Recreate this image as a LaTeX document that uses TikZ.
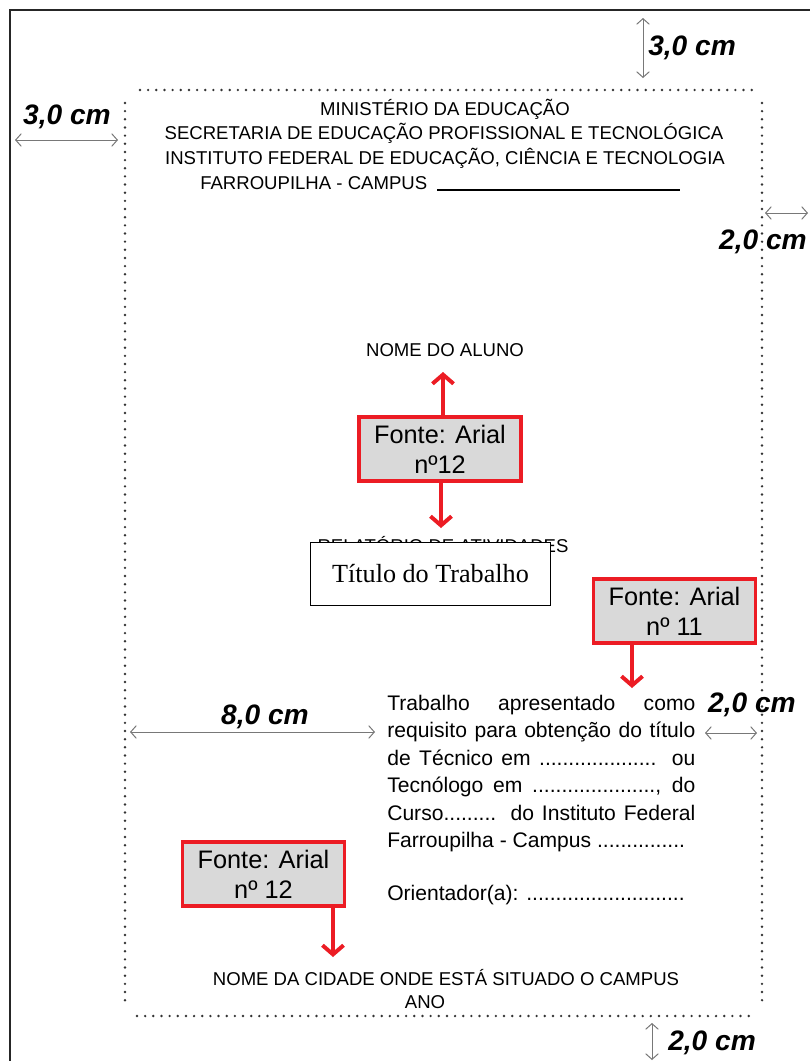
\documentclass[tikz,border=0pt]{standalone}
\usepackage{fontspec}
\setmainfont{Liberation Sans}
\newfontfamily\titlefont{Liberation Serif}
\usetikzlibrary{arrows.meta}
\definecolor{markred}{RGB}{236,28,36}
\definecolor{boxgray}{RGB}{217,217,217}
\definecolor{dimgray}{RGB}{120,120,120}
\tikzset{
	caps/.style={font=\fontsize{13.2}{17.4}\selectfont, inner sep=0pt},
	fontbox/.style={draw=markred, line width=2.8pt, fill=boxgray, align=center, minimum width=4.05cm, minimum height=1.62cm, inner sep=0pt, font=\fontsize{18}{21.5}\selectfont},
	redarrow/.style={draw=markred, line width=2.8pt, -{Straight Barb[length=6.5pt,width=15pt]}},
	dimarrow/.style={draw=dimgray, line width=0.7pt, {Straight Barb[length=4pt,width=9pt]}-{Straight Barb[length=4pt,width=9pt]}},
	dimtext/.style={font=\fontsize{20}{24}\selectfont\bfseries\itshape, inner sep=0pt},
	marginline/.style={draw=black!80, line width=1.9pt, line cap=round, dash pattern=on 0pt off 5.8pt},
}

\begin{document}
\begin{tikzpicture}[x=0.025cm, y=-0.025cm]
	%%%%% START %%%%%
	
	\clip (0,0) rectangle (810,1061);
	\fill[white] (0,0) rectangle (810,1061);
	
	% page edge
	\draw[line width=1.5pt, black!85] (10,1061) -- (10,10) -- (810,10);
	
	% margins
	\draw[marginline] (140,90) -- (752,90);
	\draw[marginline] (125,103) -- (125,1008);
	\draw[marginline] (762,103) -- (762,1004);
	\draw[marginline] (137,1016) -- (753,1016);
	
	% header
	\node[caps, anchor=base] (ministry) at (445,115) {MINISTÉRIO DA EDUCAÇÃO};
	\node[caps, anchor=base] (secretariat) at (444,139) {SECRETARIA DE EDUCAÇÃO PROFISSIONAL E TECNOLÓGICA};
	\node[caps, anchor=base] (institute) at (445,164) {INSTITUTO FEDERAL DE EDUCAÇÃO, CIÊNCIA E TECNOLOGIA};
	\node[caps, anchor=base west] (campus) at (200,189) {FARROUPILHA - CAMPUS};
	\coordinate (lineA) at (437,190);
	\coordinate (lineB) at (680,190);
	\draw[line width=0.9pt] (lineA) -- (lineB);
	
	\node[caps, anchor=base] (student) at (445,356) {NOME DO ALUNO};
	\node[caps, anchor=base] (report) at (443,552) {RELATÓRIO DE ATIVIDADES};
	\node[draw, line width=1.2pt, fill=white, minimum width=6cm, minimum height=1.58cm, inner sep=0pt, font=\titlefont\fontsize{18.6}{22}\selectfont] (title) at (430.5,574) {Título do Trabalho};
	
	% font notes
	\node[fontbox] (fonteA) at (440,449) {Fonte: Arial\\nº12};
	\node[fontbox] (fonteB) at (674.5,611) {Fonte: Arial\\nº 11};
	\node[fontbox] (fonteC) at (263.5,874) {Fonte: Arial\\nº 12};
	
	\coordinate (tipA) at (443,372);
	\coordinate (tipB) at (441,528);
	\coordinate (tipC) at (632,688);
	\coordinate (tipD) at (333,957);
	\draw[redarrow] (fonteA.north -| tipA) -- (tipA);
	\draw[redarrow] (fonteA.south -| tipB) -- (tipB);
	\draw[redarrow] (fonteB.south -| tipC) -- (tipC);
	\draw[redarrow] (fonteC.south -| tipD) -- (tipD);
	
	% presentation text
	\node[anchor=base west, text width=7.7cm, align=justify, inner sep=0pt, font=\fontsize{15}{19.6}\selectfont] (presentation) at (387,710) {\noindent Trabalho apresentado como\linebreak
		requisito para obtenção do título\linebreak
		de Técnico em .................... ou\linebreak
		Tecnólogo em ....................., do\linebreak
		Curso......... do Instituto Federal\linebreak
		Farroupilha - Campus ...............\par
		\vspace{18pt}\noindent Orientador(a): ...........................};
	
	\node[caps, anchor=base] (city) at (446,985) {NOME DA CIDADE ONDE ESTÁ SITUADO O CAMPUS};
	\node[caps, anchor=base] (year) at (425,1008) {ANO};
	
	% margin sizes
	\coordinate (topA) at (643,18);
	\coordinate (topB) at (643,78);
	\draw[dimarrow] (topA) -- (topB);
	\node[dimtext, anchor=west] (topsize) at (648,48) {3,0 cm};
	
	\coordinate (leftA) at (15,140);
	\coordinate (leftB) at (118,140);
	\draw[dimarrow] (leftA) -- (leftB);
	\node[dimtext] (leftsize) at (67,117) {3,0 cm};
	
	\coordinate (rightA) at (765,213);
	\coordinate (rightB) at (808,213);
	\draw[dimarrow] (rightA) -- (rightB);
	\node[dimtext, anchor=east] (rightsize) at (807,242) {2,0 cm};
	
	\coordinate (columnA) at (130,732);
	\coordinate (columnB) at (375,732);
	\draw[dimarrow] (columnA) -- (columnB);
	\node[dimtext] (columnsize) at (265,717) {8,0 cm};
	
	\coordinate (indentA) at (705,733);
	\coordinate (indentB) at (757,733);
	\draw[dimarrow] (indentA) -- (indentB);
	\node[dimtext] (indentsize) at (752,705) {2,0 cm};
	
	\coordinate (bottomA) at (652,1023);
	\coordinate (bottomB) at (652,1060);
	\draw[dimarrow] (bottomA) -- (bottomB);
	\node[dimtext, anchor=west] (bottomsize) at (668,1043) {2,0 cm};
	
	%%%%% END %%%%%
\end{tikzpicture}
\end{document}
